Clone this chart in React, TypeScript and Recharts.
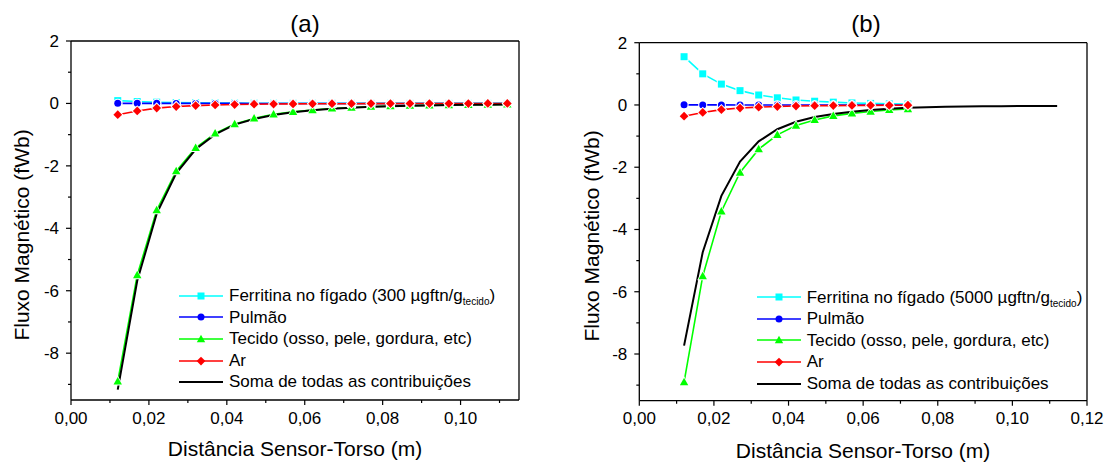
import React from 'react';
import { LineChart, Line, XAxis, YAxis, ReferenceLine, Legend } from 'recharts';

const FONT = "Arial, 'Liberation Sans', Helvetica, sans-serif";

// ---------- Panel (a) data ----------
const distA = [0.012, 0.017, 0.022, 0.027, 0.032, 0.037, 0.042, 0.047, 0.052, 0.057, 0.062, 0.067, 0.072, 0.077, 0.082, 0.087, 0.092, 0.097, 0.102, 0.107, 0.112];
const ferritinA = [0.09, 0.06, 0.04, 0.028, 0.02, 0.014, 0.01, 0.008, 0.006, 0.005, 0.004, 0.003, 0.002, 0.002, 0.002, 0.001, 0.001, 0.001, 0.001, 0.001, 0.001];
const lungA = [0.003, 0.002, 0.002, 0.001, 0.001, 0.001, 0.001, 0.0, 0.0, 0.0, 0.0, 0.0, 0.0, 0.0, 0.0, 0.0, 0.0, 0.0, 0.0, 0.0, 0.0];
const tissueA = [-8.9, -5.5, -3.42, -2.17, -1.42, -0.96, -0.66, -0.48, -0.35, -0.27, -0.21, -0.16, -0.13, -0.105, -0.087, -0.072, -0.06, -0.051, -0.044, -0.038, -0.033];
const airA = [-0.36, -0.24, -0.15, -0.1, -0.07, -0.05, -0.035, -0.025, -0.02, -0.015, -0.012, -0.01, -0.008, -0.006, -0.005, -0.004, -0.004, -0.003, -0.003, -0.002, -0.002];
const sumA = [-9.17, -5.68, -3.53, -2.24, -1.47, -0.99, -0.68, -0.5, -0.37, -0.28, -0.22, -0.17, -0.14, -0.11, -0.09, -0.075, -0.063, -0.053, -0.046, -0.04, -0.034];

// ---------- Panel (b) data ----------
const distB = [0.012, 0.017, 0.022, 0.027, 0.032, 0.037, 0.042, 0.047, 0.052, 0.057, 0.062, 0.067, 0.072, 0.077, 0.082, 0.087, 0.092, 0.097, 0.102, 0.107, 0.112];
const ferritinB = [1.55, 1.0, 0.67, 0.46, 0.32, 0.23, 0.16, 0.12, 0.09, 0.065, 0.05, 0.035, 0.03];
const lungB = [0.003, 0.002, 0.002, 0.001, 0.001, 0.001, 0.001, 0.0, 0.0, 0.0, 0.0, 0.0, 0.0];
const tissueB = [-8.9, -5.5, -3.42, -2.17, -1.42, -0.96, -0.66, -0.48, -0.35, -0.27, -0.21, -0.16, -0.13];
const airB = [-0.36, -0.24, -0.15, -0.1, -0.07, -0.05, -0.035, -0.025, -0.02, -0.015, -0.012, -0.01, -0.008];
const sumB = [-7.73, -4.73, -2.92, -1.82, -1.17, -0.78, -0.54, -0.39, -0.29, -0.22, -0.16, -0.12, -0.09, -0.075, -0.06, -0.05, -0.045, -0.04, -0.035, -0.032, -0.03];

// ---------- Ticks & labels ----------
const xTicksA = [0, 0.01, 0.02, 0.03, 0.04, 0.05, 0.06, 0.07, 0.08, 0.09, 0.1, 0.11];
const xTicksB = [0, 0.01, 0.02, 0.03, 0.04, 0.05, 0.06, 0.07, 0.08, 0.09, 0.1, 0.11, 0.12];
const yTicks = [-9, -8, -7, -6, -5, -4, -3, -2, -1, 0, 1, 2];
const seriesNames = ['Ferritina no fígado', 'Pulmão', 'Tecido (osso, pele, gordura, etc)', 'Ar', 'Soma de todas as contribuições'];
const seriesColors = ['#00FFFF', '#0000FF', '#00FF00', '#FF0000', '#000000'];
const titleA = '(a)';
const titleB = '(b)';
const doseA = '300';
const doseB = '5000';
const xLabel = 'Distância Sensor-Torso (m)';
const yLabel = 'Fluxo Magnético (fWb)';

const buildRows = (dist: number[], f: number[], l: number[], t: number[], a: number[], s: number[]) =>
  dist.map((x, i) => ({ x, ferritin: f[i], lung: l[i], tissue: t[i], air: a[i], sum: s[i] }));

const rowsA = buildRows(distA, ferritinA, lungA, tissueA, airA, sumA);
const rowsB = buildRows(distB, ferritinB, lungB, tissueB, airB, sumB);

// ---------- Markers ----------
type Shape = 'square' | 'circle' | 'triangle' | 'diamond';

const MarkerShape = ({ shape, cx, cy, color, halo }: { shape: Shape; cx: number; cy: number; color: string; halo?: boolean }) => {
  const draw = (s: number, fill: string) => {
    if (shape === 'square') return <rect x={cx - s} y={cy - s} width={2 * s} height={2 * s} fill={fill} />;
    if (shape === 'circle') return <circle cx={cx} cy={cy} r={s} fill={fill} />;
    if (shape === 'triangle')
      return <polygon points={`${cx},${cy - s * 1.25} ${cx - s * 1.2},${cy + s * 0.9} ${cx + s * 1.2},${cy + s * 0.9}`} fill={fill} />;
    return <polygon points={`${cx},${cy - s * 1.25} ${cx + s * 1.25},${cy} ${cx},${cy + s * 1.25} ${cx - s * 1.25},${cy}`} fill={fill} />;
  };
  return (
    <g>
      {halo && draw(4.6, '#FFFFFF')}
      {draw(3.5, color)}
    </g>
  );
};

const makeDot = (shape: Shape, color: string) => (props: any) => {
  const { cx, cy, index } = props;
  if (cx == null || cy == null || Number.isNaN(cx) || Number.isNaN(cy)) return <g key={`d-${index}`} />;
  return (
    <g key={`d-${index}`}>
      <MarkerShape shape={shape} cx={cx} cy={cy} color={color} halo />
    </g>
  );
};

// ---------- Ticks ----------
const XTick = (props: any) => {
  const { x, y, payload } = props;
  const v = payload.value as number;
  const major = Math.round(v * 100) % 2 === 0;
  return (
    <g>
      <line x1={x} x2={x} y1={y} y2={y + (major ? 5 : 3)} stroke="#000" strokeWidth={1.2} />
      {major && (
        <text x={x} y={y + 23.5} textAnchor="middle" fontSize={17} fontFamily={FONT} fill="#000">
          {v.toFixed(2).replace('.', ',')}
        </text>
      )}
    </g>
  );
};

const YTick = (props: any) => {
  const { x, y, payload } = props;
  const v = payload.value as number;
  const major = Math.abs(v) % 2 === 0;
  return (
    <g>
      <line x1={x - (major ? 5 : 3)} x2={x} y1={y} y2={y} stroke="#000" strokeWidth={1.2} />
      {major && (
        <text x={x - 12} y={y + 6} textAnchor="end" fontSize={17} fontFamily={FONT} fill="#000">
          {String(v)}
        </text>
      )}
    </g>
  );
};

// ---------- Legend ----------
const shapes: (Shape | null)[] = ['square', 'circle', 'triangle', 'diamond', null];

const LegendBox = ({ dose }: { dose: string }) => (
  <div style={{ fontFamily: FONT, fontSize: 17, color: '#000', lineHeight: '21.6px' }}>
    {seriesNames.map((name, i) => (
      <div key={name} style={{ display: 'flex', alignItems: 'center', height: 21.6, whiteSpace: 'nowrap' }}>
        <svg width={44} height={14} style={{ display: 'block', overflow: 'visible' }}>
          <line x1={0} x2={44} y1={7} y2={7} stroke={seriesColors[i]} strokeWidth={i === 4 ? 2 : 1.6} />
          {shapes[i] && <MarkerShape shape={shapes[i] as Shape} cx={22} cy={7} color={seriesColors[i]} />}
        </svg>
        <span style={{ marginLeft: 6 }}>
          {i === 0 ? (
            <>
              {name} ({dose} µgftn/g<sub style={{ fontSize: 10, verticalAlign: '-4px', lineHeight: 0 }}>tecido</sub>)
            </>
          ) : (
            name
          )}
        </span>
      </div>
    ))}
  </div>
);

// ---------- Panel ----------
type PanelProps = {
  rows: any[];
  width: number;
  xMax: number;
  xTicks: number[];
  margin: { top: number; right: number; bottom: number; left: number };
  legendLeft: number;
  legendTop: number;
  dose: string;
};

const Panel = ({ rows, width, xMax, xTicks, margin, legendLeft, legendTop, dose }: PanelProps) => (
  <LineChart width={width} height={466} data={rows} margin={margin} style={{ overflow: 'visible' }}>
    <XAxis
      dataKey="x"
      type="number"
      domain={[0, xMax]}
      ticks={xTicks}
      allowDataOverflow
      interval={0}
      height={30}
      tickSize={0}
      tickMargin={0}
      tickLine={false}
      tick={<XTick />}
      axisLine={{ stroke: '#000', strokeWidth: 1.3 }}
    />
    <YAxis
      type="number"
      domain={[-9.5, 2]}
      ticks={yTicks}
      allowDataOverflow
      interval={0}
      width={30}
      tickSize={0}
      tickMargin={0}
      tickLine={false}
      tick={<YTick />}
      axisLine={{ stroke: '#000', strokeWidth: 1.3 }}
    />
    <ReferenceLine y={2} stroke="#000" strokeWidth={1.3} />
    <ReferenceLine x={xMax} stroke="#000" strokeWidth={1.3} />
    <Line dataKey="ferritin" stroke={seriesColors[0]} strokeWidth={1.6} dot={makeDot('square', seriesColors[0])} activeDot={false} isAnimationActive={false} />
    <Line dataKey="lung" stroke={seriesColors[1]} strokeWidth={1.6} dot={makeDot('circle', seriesColors[1])} activeDot={false} isAnimationActive={false} />
    <Line dataKey="tissue" stroke={seriesColors[2]} strokeWidth={1.6} dot={makeDot('triangle', seriesColors[2])} activeDot={false} isAnimationActive={false} />
    <Line dataKey="air" stroke={seriesColors[3]} strokeWidth={1.6} dot={makeDot('diamond', seriesColors[3])} activeDot={false} isAnimationActive={false} />
    <Line dataKey="sum" stroke={seriesColors[4]} strokeWidth={2} dot={false} activeDot={false} isAnimationActive={false} />
    <Legend
      layout="vertical"
      align="center"
      verticalAlign="middle"
      wrapperStyle={{ left: legendLeft, top: legendTop, width: 'auto', height: 'auto' }}
      content={() => <LegendBox dose={dose} />}
    />
  </LineChart>
);

export default function App() {
  return (
    <div style={{ position: 'absolute', left: 0, top: 0, width: 1106, height: 466, background: '#fff', fontFamily: FONT }}>
      <div style={{ position: 'absolute', left: 0, top: 0 }}>
        <Panel
          rows={rowsA}
          width={556}
          xMax={0.115}
          xTicks={xTicksA}
          margin={{ top: 41, right: 37, bottom: 36, left: 41 }}
          legendLeft={179}
          legendTop={285}
          dose={doseA}
        />
      </div>
      <div style={{ position: 'absolute', left: 556, top: 0 }}>
        <Panel
          rows={rowsB}
          width={550}
          xMax={0.12}
          xTicks={xTicksB}
          margin={{ top: 42.7, right: 19, bottom: 35.3, left: 53.3 }}
          legendLeft={200.7}
          legendTop={286.5}
          dose={doseB}
        />
      </div>
      <svg width={1106} height={466} style={{ position: 'absolute', left: 0, top: 0, pointerEvents: 'none' }}>
        <text x={305} y={32} textAnchor="middle" fontSize={24} fontFamily={FONT} fill="#000">{titleA}</text>
        <text x={866} y={32} textAnchor="middle" fontSize={24} fontFamily={FONT} fill="#000">{titleB}</text>
        <text x={295} y={456} textAnchor="middle" fontSize={21} fontFamily={FONT} fill="#000">{xLabel}</text>
        <text x={863} y={458} textAnchor="middle" fontSize={21} fontFamily={FONT} fill="#000">{xLabel}</text>
        <text transform="translate(29,235) rotate(-90)" textAnchor="middle" fontSize={21} fontFamily={FONT} fill="#000">{yLabel}</text>
        <text transform="translate(599,236) rotate(-90)" textAnchor="middle" fontSize={21} fontFamily={FONT} fill="#000">{yLabel}</text>
      </svg>
    </div>
  );
}
